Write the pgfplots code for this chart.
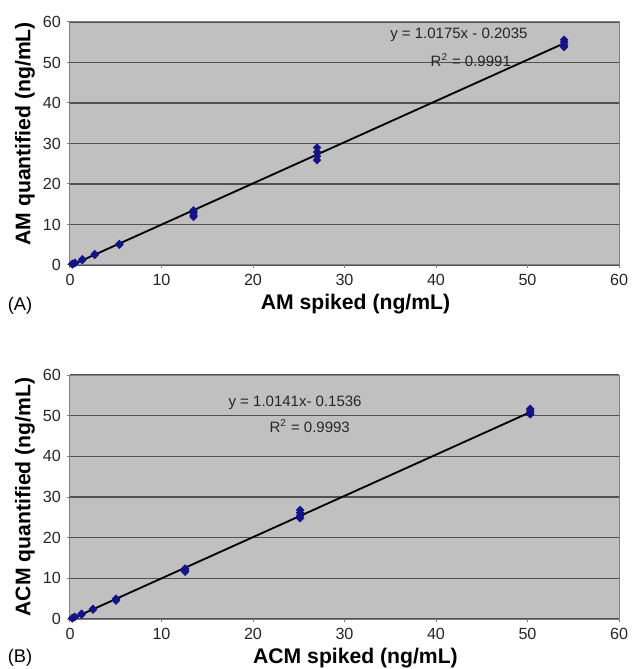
\documentclass[border=0pt]{standalone}
\usepackage{fontspec}
\setmainfont{Liberation Sans}
\usepackage{pgfplots}
\pgfplotsset{compat=1.18}

\definecolor{plotbg}{RGB}{192,192,192}
\definecolor{gridc}{RGB}{80,80,80}
\definecolor{axisc}{RGB}{128,128,128}
\definecolor{ptc}{RGB}{20,20,135}

\pgfplotsset{
  calib/.style={
    scale only axis,
    width=329.4pt, height=145.8pt,
    xmin=0, xmax=60, ymin=0, ymax=60,
    xtick={0,10,...,60}, ytick={0,10,...,60},
    axis background/.style={fill=plotbg},
    axis line style={draw=axisc, line width=0.6pt},
    ymajorgrids,
    major grid style={draw=gridc, line width=0.85pt},
    tick align=outside, xtick pos=bottom, ytick pos=left,
    major tick length=2pt,
    every tick/.style={draw=axisc, line width=0.6pt},
    /pgf/number format/assume math mode=true,
    tick label style={font=\fontsize{9.7}{11}\selectfont, text=black!85},
    label style={font=\fontsize{12.7}{14}\selectfont\bfseries},
    xlabel style={at={(axis description cs:0.52,-0.161)}, anchor=center},
    ylabel style={at={(axis description cs:-0.082,0.5)}, anchor=center},
    clip=false,
  },
  pts/.style={only marks, mark=square*, mark size=1.6pt,
    mark options={draw=ptc, fill=ptc, rotate=45}},
  fit/.style={no marks, black, line width=1.1pt},
}

\begin{document}
\begin{tikzpicture}
\useasboundingbox (-42pt,-30pt) rectangle (337.8pt,371.4pt);

% (B) ACM
\begin{axis}[calib, at={(0,0)}, height=146.4pt,
  xlabel={ACM spiked (ng/mL)}, ylabel={ACM quantified (ng/mL)}]
\addplot[pts] coordinates {
  (0.25,0.15) (0.25,0.25)
  (0.5,0.45) (0.5,0.55)
  (1.26,1.1) (1.26,1.3)
  (2.52,2.3) (2.52,2.5)
  (5.03,4.5) (5.03,4.8) (5.03,5.0)
  (12.58,11.6) (12.58,12.0) (12.58,12.4)
  (25.15,24.8) (25.15,25.4) (25.15,26.1) (25.15,26.8)
  (50.3,50.3) (50.3,50.7) (50.3,51.2) (50.3,51.7)
};
\addplot[fit] coordinates {(0.25,0.10) (50.3,50.86)};
\node[font=\fontsize{9}{11}\selectfont, text=black!85] at (axis cs:24.6,53.2) {y = 1.0141x- 0.1536};
\node[font=\fontsize{9}{11}\selectfont, text=black!85] at (axis cs:26.2,47.5) {R\textsuperscript{2} = 0.9993};
\node[font=\fontsize{11}{12}\selectfont] at (axis description cs:-0.091,-0.16) {(B)};
\end{axis}

% (A) AM
\begin{axis}[calib, at={(0,212.4pt)},
  xlabel={AM spiked (ng/mL)}, ylabel={AM quantified (ng/mL)},
  ylabel style={at={(axis description cs:-0.082,0.54)}}]
\addplot[pts] coordinates {
  (0.27,0.15) (0.27,0.25) (0.27,0.3)
  (0.54,0.45) (0.54,0.55)
  (1.35,1.2) (1.35,1.4)
  (2.7,2.5) (2.7,2.7)
  (5.4,5.0) (5.4,5.2)
  (13.5,11.9) (13.5,12.3) (13.5,12.9) (13.5,13.5)
  (27,25.9) (27,26.9) (27,27.9) (27,29.0)
  (54,53.8) (54,54.4) (54,55.0) (54,55.6)
};
\addplot[fit] coordinates {(0.27,0.07) (54,54.74)};
\node[font=\fontsize{9}{11}\selectfont, text=black!85] at (axis cs:42.5,56.8) {y = 1.0175x - 0.2035};
\node[font=\fontsize{9}{11}\selectfont, text=black!85] at (axis cs:43.8,50.6) {R\textsuperscript{2} = 0.9991};
\node[font=\fontsize{11}{12}\selectfont] at (axis description cs:-0.091,-0.169) {(A)};
\end{axis}
\end{tikzpicture}
\end{document}
